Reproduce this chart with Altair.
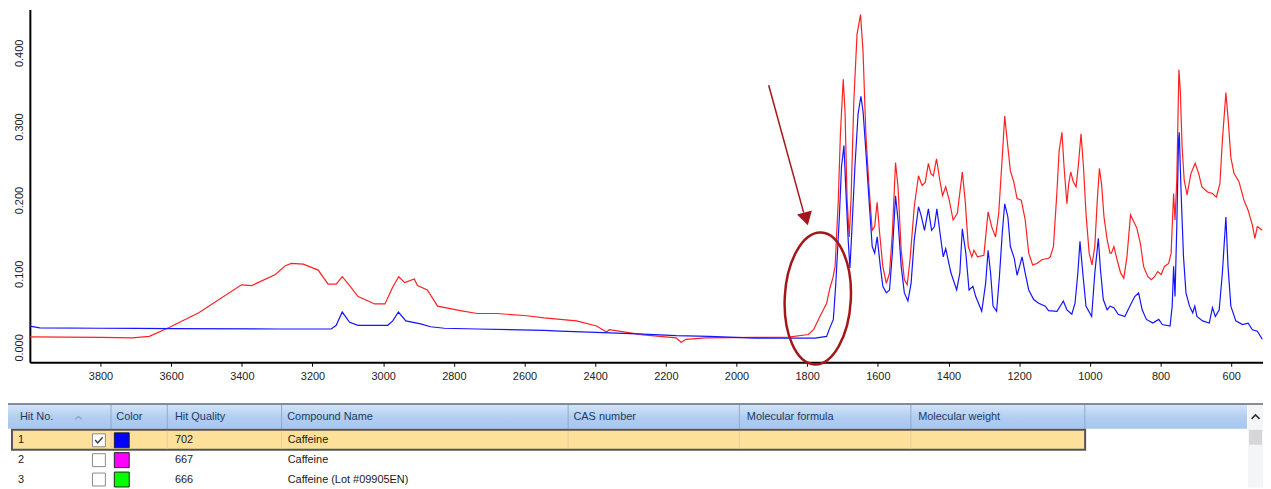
import altair as alt
import pandas as pd

# ---------------- spectrum data (wavenumber cm-1, absorbance) ----------------
red_wn = [4000, 3900, 3800, 3710, 3662, 3606, 3522, 3401, 3372, 3305,
          3277, 3260, 3226, 3184, 3156, 3133, 3116, 3100, 3071, 3024,
          2995, 2973, 2956, 2939, 2912, 2903, 2875, 2846, 2782, 2734,
          2678, 2593, 2545, 2453, 2396, 2368, 2360, 2264, 2171, 2157,
          2143, 2087, 1946, 1853, 1797, 1782, 1764, 1745, 1736, 1727,
          1721, 1712, 1706, 1698, 1693, 1687, 1681, 1676, 1668, 1659,
          1649, 1642, 1634, 1625, 1616, 1609, 1602, 1595, 1586, 1576,
          1567, 1559, 1550, 1543, 1534, 1525, 1517, 1509, 1497, 1485,
          1475, 1466, 1457, 1450, 1443, 1434, 1426, 1417, 1408, 1398,
          1387, 1375, 1361, 1353, 1344, 1334, 1328, 1318, 1300, 1288,
          1278, 1267, 1258, 1248, 1241, 1234, 1225, 1215, 1206, 1194,
          1183, 1173, 1162, 1150, 1136, 1117, 1112, 1103, 1093, 1087,
          1079, 1073, 1065, 1060, 1054, 1047, 1039, 1033, 1025, 1018,
          1011, 1002, 994, 986, 979, 973, 967, 960, 951, 943,
          939, 932, 923, 913, 904, 895, 885, 876, 867, 857,
          848, 836, 826, 817, 808, 798, 789, 777, 770, 763,
          759, 754, 748, 744, 739, 733, 725, 714, 702, 692,
          683, 667, 653, 642, 632, 625, 615, 609, 601, 592,
          578, 564, 552, 540, 533, 526, 512]
red_abs = [0.0144, 0.0140, 0.0135, 0.0130, 0.0150, 0.0270, 0.0470, 0.0850, 0.0840, 0.0990,
           0.1110, 0.1140, 0.1130, 0.1050, 0.0860, 0.0860, 0.0960, 0.0870, 0.0690, 0.0590,
           0.0590, 0.0820, 0.0960, 0.0880, 0.0930, 0.0840, 0.0780, 0.0560, 0.0500, 0.0460,
           0.0460, 0.0430, 0.0400, 0.0360, 0.0290, 0.0210, 0.0240, 0.0170, 0.0130, 0.0070,
           0.0110, 0.0130, 0.0135, 0.0140, 0.0175, 0.0240, 0.0420, 0.0600, 0.0800, 0.0950,
           0.1100, 0.2000, 0.2900, 0.3640, 0.3210, 0.2000, 0.1500, 0.2000, 0.3350, 0.4250,
           0.4520, 0.4020, 0.2900, 0.2180, 0.1590, 0.1640, 0.1970, 0.1550, 0.1100, 0.0870,
           0.1010, 0.1550, 0.2510, 0.2180, 0.1320, 0.0920, 0.0850, 0.1190, 0.1910, 0.2330,
           0.2200, 0.2240, 0.2500, 0.2360, 0.2330, 0.2560, 0.2310, 0.2060, 0.2180, 0.2000,
           0.1730, 0.1820, 0.2380, 0.2000, 0.1370, 0.1230, 0.1320, 0.1230, 0.1250, 0.1840,
           0.1640, 0.1500, 0.1820, 0.2580, 0.3140, 0.2810, 0.2400, 0.2240, 0.2020, 0.2000,
           0.1730, 0.1280, 0.1120, 0.1140, 0.1190, 0.1210, 0.1230, 0.1370, 0.2130, 0.2670,
           0.2920, 0.2450, 0.1950, 0.2220, 0.2380, 0.2250, 0.2180, 0.2450, 0.2900, 0.2450,
           0.1820, 0.1280, 0.1120, 0.1370, 0.2000, 0.2430, 0.2220, 0.1770, 0.1460, 0.1280,
           0.1280, 0.1370, 0.1190, 0.1010, 0.0940, 0.1230, 0.1800, 0.1710, 0.1620, 0.1410,
           0.1100, 0.0960, 0.0920, 0.0960, 0.1030, 0.0990, 0.1100, 0.1140, 0.1280, 0.2090,
           0.1730, 0.2270, 0.3770, 0.3480, 0.2720, 0.2270, 0.2070, 0.2360, 0.2500, 0.2360,
           0.2180, 0.2110, 0.2090, 0.2040, 0.2220, 0.2810, 0.3460, 0.3120, 0.2580, 0.2360,
           0.2250, 0.2000, 0.1860, 0.1660, 0.1480, 0.1640, 0.1590]

blue_wn = [4000, 3972, 3800, 3700, 3600, 3296, 3147, 3133, 3116, 3095,
           3071, 2987, 2973, 2957, 2936, 2894, 2866, 2827, 2734, 2545,
           2500, 2377, 2264, 2171, 2078, 1946, 1778, 1745, 1736, 1726,
           1719, 1709, 1703, 1696, 1691, 1684, 1679, 1674, 1665, 1656,
           1648, 1642, 1634, 1625, 1616, 1609, 1602, 1593, 1586, 1576,
           1567, 1559, 1550, 1543, 1534, 1525, 1515, 1506, 1497, 1485,
           1478, 1468, 1457, 1448, 1440, 1433, 1424, 1415, 1408, 1393,
           1377, 1368, 1361, 1351, 1342, 1331, 1323, 1306, 1295, 1288,
           1281, 1274, 1264, 1256, 1248, 1241, 1232, 1225, 1214, 1206,
           1199, 1192, 1183, 1173, 1159, 1145, 1126, 1117, 1093, 1075,
           1065, 1051, 1042, 1034, 1028, 1020, 1011, 995, 986, 976,
           970, 962, 951, 943, 932, 920, 901, 887, 873, 862,
           852, 840, 822, 805, 795, 773, 767, 763, 759, 754,
           749, 747, 742, 735, 728, 718, 709, 703, 697, 681,
           662, 653, 645, 634, 625, 615, 609, 601, 587, 568,
           552, 540, 526, 512]
blue_abs = [0.029, 0.0265, 0.026, 0.0258, 0.0256, 0.025, 0.025, 0.030, 0.048, 0.034,
            0.030, 0.030, 0.036, 0.048, 0.036, 0.032, 0.028, 0.026, 0.025, 0.023,
            0.022, 0.020, 0.018, 0.016, 0.015, 0.0125, 0.0125, 0.015, 0.0265, 0.038,
            0.087, 0.177, 0.245, 0.274, 0.218, 0.146, 0.108, 0.155, 0.245, 0.317,
            0.341, 0.321, 0.267, 0.200, 0.137, 0.128, 0.150, 0.110, 0.083, 0.074,
            0.078, 0.128, 0.206, 0.173, 0.110, 0.074, 0.063, 0.087, 0.146, 0.191,
            0.180, 0.159, 0.188, 0.159, 0.164, 0.188, 0.155, 0.123, 0.134, 0.101,
            0.078, 0.101, 0.161, 0.128, 0.078, 0.083, 0.069, 0.049, 0.087, 0.132,
            0.101, 0.056, 0.049, 0.096, 0.155, 0.195, 0.177, 0.137, 0.121, 0.098,
            0.110, 0.123, 0.101, 0.078, 0.065, 0.060, 0.056, 0.050, 0.049, 0.063,
            0.051, 0.045, 0.060, 0.101, 0.144, 0.101, 0.056, 0.042, 0.101, 0.148,
            0.105, 0.065, 0.051, 0.056, 0.054, 0.045, 0.042, 0.056, 0.069, 0.074,
            0.051, 0.038, 0.033, 0.038, 0.031, 0.029, 0.056, 0.110, 0.069, 0.164,
            0.281, 0.292, 0.213, 0.123, 0.074, 0.056, 0.047, 0.056, 0.042, 0.036,
            0.033, 0.054, 0.042, 0.051, 0.101, 0.177, 0.110, 0.056, 0.036, 0.031,
            0.033, 0.024, 0.022, 0.011]

x_ticks = list(range(3800, 500, -200))
y_ticks = [0.0, 0.1, 0.2, 0.3, 0.4]

# ---------------- annotation (data units) ----------------
arrow_start = [1909, 0.356]
arrow_end = [1810, 0.183]
arrow_head = [1803, 0.1745]
ellipse_center = [1770, 0.0665]

# ---------------- hit list table ----------------
table_columns = ["Hit No.", "Color", "Hit Quality", "Compound Name",
                 "CAS number", "Molecular formula", "Molecular weight"]
hit_no = ["1", "2", "3"]
hit_checked = [True, False, False]
hit_color = ["#0000ff", "#ff00ff", "#00ff00"]
hit_quality = ["702", "667", "666"]
compound_name = ["Caffeine", "Caffeine", "Caffeine (Lot #09905EN)"]

# ---------------- layout (pixels, relative to plot origin) ----------------
W, H = 1241, 355
col_text_x = [-10, 87, 146, 259, 547, 721.5, 894]
col_sep_x = [81.7, 138.3, 253.3, 541.7, 714, 886.7, 1061.7]
row_mid_y = [433.5, 453.5, 473]
FONT = "Liberation Sans"
DARKRED = "#a5161b"

xs = alt.Scale(domain=[510, 4000], reverse=True, nice=False, zero=False)
ys = alt.Scale(domain=[-0.0202, 0.4588], nice=False, zero=False)
x_axis = alt.Axis(values=x_ticks, format="d", title=None, grid=False,
                  domainColor="#000000", domainWidth=2, tickColor="#000000",
                  tickSize=4, tickWidth=1, labelFont=FONT, labelFontSize=11,
                  labelColor="#222222", labelPadding=4, labelFlush=False,
                  labelOverlap=False)
y_axis = alt.Axis(values=y_ticks, format=".3f", title=None, grid=False,
                  domainColor="#000000", domainWidth=2, ticks=False,
                  labelAngle=270, labelAlign="center", labelBaseline="bottom",
                  labelPadding=5, labelFont=FONT, labelFontSize=11,
                  labelColor="#222222", labelOverlap=False)


def X():
    return alt.X("wn:Q", scale=xs, axis=x_axis)


def Y():
    return alt.Y("a:Q", scale=ys, axis=y_axis)


def IX(f):
    return alt.X(f + ":Q", scale=None, axis=None)


def IY(f):
    return alt.Y(f + ":Q", scale=None, axis=None)


red_df = pd.DataFrame({"wn": red_wn, "a": red_abs})
blue_df = pd.DataFrame({"wn": blue_wn, "a": blue_abs})

red_line = alt.Chart(red_df).mark_line(color="#ff2020", strokeWidth=1.2).encode(x=X(), y=Y())
blue_line = alt.Chart(blue_df).mark_line(color="#1414ff", strokeWidth=1.2).encode(x=X(), y=Y())

arrow_df = pd.DataFrame({"wn": [arrow_start[0]], "a": [arrow_start[1]],
                         "wn2": [arrow_end[0]], "a2": [arrow_end[1]]})
arrow = alt.Chart(arrow_df).mark_rule(color=DARKRED, strokeWidth=1.5).encode(
    x=X(), y=Y(), x2="wn2:Q", y2="a2:Q")
head = alt.Chart(pd.DataFrame({"wn": [arrow_head[0]], "a": [arrow_head[1]]})).mark_point(
    shape="triangle-down", size=240, filled=True, color=DARKRED, opacity=1, angle=345
).encode(x=X(), y=Y())
ELLIPSE = ("M0,-1C0.276,-1 0.5,-0.552 0.5,0C0.5,0.552 0.276,1 0,1"
           "C-0.276,1 -0.5,0.552 -0.5,0C-0.5,-0.552 -0.276,-1 0,-1Z")
ellipse = alt.Chart(pd.DataFrame({"wn": [ellipse_center[0]], "a": [ellipse_center[1]]})).mark_point(
    shape=ELLIPSE, size=17689, filled=False, color=DARKRED, strokeWidth=2.5, opacity=1, angle=3
).encode(x=X(), y=Y())

# ---- table pieces ----
header_grad = alt.LinearGradient(
    gradient="linear",
    stops=[alt.GradientStop(color="#d6e6f9", offset=0),
           alt.GradientStop(color="#b3cff1", offset=0.5),
           alt.GradientStop(color="#a6c6ee", offset=1)],
    x1=0, x2=0, y1=0, y2=1)
header_bg = alt.Chart(pd.DataFrame({"x": [-22], "x2": [1225], "y": [397], "y2": [422]})).mark_rect(
    fill=header_grad).encode(x=IX("x"), x2="x2:Q", y=IY("y"), y2="y2:Q")
scroll_bg = alt.Chart(pd.DataFrame({"x": [1226], "x2": [1241], "y": [397], "y2": [481]})).mark_rect(
    fill="#f4f5f7").encode(x=IX("x"), x2="x2:Q", y=IY("y"), y2="y2:Q")
scroll_thumb = alt.Chart(pd.DataFrame({"x": [1227], "x2": [1240], "y": [423], "y2": [438]})).mark_rect(
    fill="#d6d6d6").encode(x=IX("x"), x2="x2:Q", y=IY("y"), y2="y2:Q")
top_border = alt.Chart(pd.DataFrame({"x": [-22], "x2": [1241], "y": [397]})).mark_rule(
    color="#5f6b78", strokeWidth=1.5).encode(x=IX("x"), x2="x2:Q", y=IY("y"))
sep_df = pd.DataFrame({"x": col_sep_x, "y": [398] * len(col_sep_x), "y2": [422] * len(col_sep_x)})
header_seps = alt.Chart(sep_df).mark_rule(color="#8eaad0", strokeWidth=1).encode(
    x=IX("x"), y=IY("y"), y2="y2:Q")

row1 = alt.Chart(pd.DataFrame({"x": [-18], "x2": [1062], "y": [423], "y2": [443]})).mark_rect(
    fill="#fde19a", stroke="#555555", strokeWidth=2).encode(x=IX("x"), x2="x2:Q", y=IY("y"), y2="y2:Q")
row1_sep_df = pd.DataFrame({"x": col_sep_x[:-1], "y": [424] * 6, "y2": [442] * 6})
row1_seps = alt.Chart(row1_sep_df).mark_rule(color="#efc7a2", strokeWidth=1).encode(
    x=IX("x"), y=IY("y"), y2="y2:Q")

cb_df = pd.DataFrame({"x": [63] * 3, "x2": [76] * 3,
                      "y": [m - 6.5 for m in row_mid_y], "y2": [m + 6.5 for m in row_mid_y]})
checkboxes = alt.Chart(cb_df).mark_rect(fill="#ffffff", stroke="#8a8a8a", strokeWidth=1).encode(
    x=IX("x"), x2="x2:Q", y=IY("y"), y2="y2:Q")
chk_df = pd.DataFrame({"x": [69.5 for c in hit_checked if c],
                       "y": [m for m, c in zip(row_mid_y, hit_checked) if c]})
checks = alt.Chart(chk_df).mark_point(
    shape="M-0.75,-0.05L-0.25,0.55L0.75,-0.6", size=100, filled=False,
    color="#3a3a3a", strokeWidth=1.4, opacity=1).encode(x=IX("x"), y=IY("y"))
sq_df = pd.DataFrame({"x": [85] * 3, "x2": [100] * 3,
                      "y": [m - 7.5 for m in row_mid_y], "y2": [m + 7.5 for m in row_mid_y],
                      "fill": hit_color})
squares = alt.Chart(sq_df).mark_rect(stroke="#222222", strokeWidth=1).encode(
    x=IX("x"), x2="x2:Q", y=IY("y"), y2="y2:Q", color=alt.Color("fill:N", scale=None))

head_txt_df = pd.DataFrame({"x": col_text_x, "y": [410.5] * len(col_text_x), "t": table_columns})
header_text = alt.Chart(head_txt_df).mark_text(
    align="left", baseline="middle", font=FONT, fontSize=11, color="#1c3a66").encode(
    x=IX("x"), y=IY("y"), text="t:N")

row_txt_df = pd.DataFrame({
    "x": [-12] * 3 + [146] * 3 + [259.5] * 3,
    "y": row_mid_y * 3,
    "t": hit_no + hit_quality + compound_name})
row_text = alt.Chart(row_txt_df).mark_text(
    align="left", baseline="middle", font=FONT, fontSize=11, color="#1a1a1a").encode(
    x=IX("x"), y=IY("y"), text="t:N")

chev_df = pd.DataFrame({"x": [1233.5], "y": [410]})
chevron = alt.Chart(chev_df).mark_point(
    shape="M-1,0.5L0,-0.5L1,0.5", size=64, filled=False, color="#333333",
    strokeWidth=1.6, opacity=1).encode(x=IX("x"), y=IY("y"))
sort_df = pd.DataFrame({"x": [49], "y": [411]})
sort_glyph = alt.Chart(sort_df).mark_point(
    shape="M-1,0.4L0,-0.4L1,0.4", size=49, filled=False, color="#8ea3bf",
    strokeWidth=1.2, opacity=1).encode(x=IX("x"), y=IY("y"))

chart = alt.layer(
    red_line, blue_line, arrow, head, ellipse,
    header_bg, scroll_bg, scroll_thumb, top_border, header_seps,
    row1, row1_seps, checkboxes, checks, squares, header_text, row_text,
    chevron, sort_glyph
).properties(
    width=W, height=H,
    autosize=alt.AutoSizeParams(type="none"),
    padding={"left": 22, "top": 0, "right": 0, "bottom": 126},
).configure_view(strokeWidth=0)

chart.save("out.html", embed_options={"renderer": "svg", "actions": False})
